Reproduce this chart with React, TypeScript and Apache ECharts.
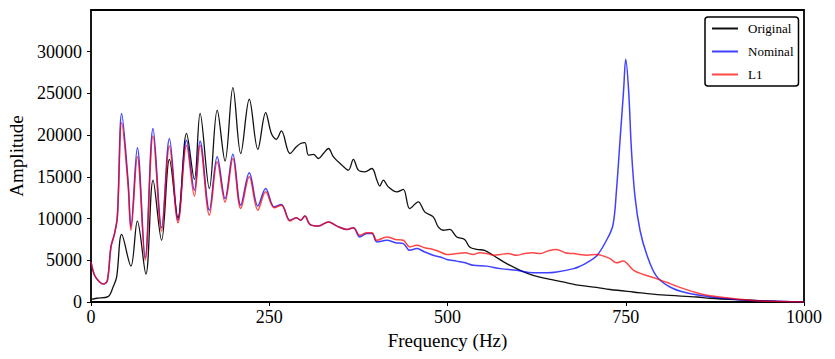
import React, { useEffect, useRef } from "react";
import * as echarts from "echarts";

// [frequency (Hz), amplitude]
const original: [number, number][] = [
  [0, 320], [8, 450], [24, 650], [31, 1800], [36, 3000], [43, 8100], [56, 4300], [65, 9700],
  [77, 3350], [87, 14600], [99, 7400], [110, 17100], [122, 10100], [134, 20200], [145, 14700],
  [153, 22600], [166, 13600], [177, 23000], [188, 16900], [199, 25700], [210, 17800], [222, 24300],
  [234, 18300], [245, 22700], [253, 20200], [260, 19500], [267, 20500], [279, 17800], [288, 18600],
  [294, 19000], [300, 19100], [305, 17600], [312, 17700], [319, 17200], [326, 17800], [333, 18400],
  [340, 17400], [352, 16400], [361, 15800], [368, 17100], [375, 15800], [384, 15600], [394, 16000],
  [401, 14600], [405, 13900], [410, 14600], [417, 13800], [429, 13200], [438, 13500], [447, 11200],
  [459, 12000], [468, 10800], [480, 10200], [487, 9000], [494, 8600], [503, 8700], [513, 7800],
  [524, 7500], [531, 6600], [541, 6300], [552, 6200], [564, 5600], [583, 4600], [602, 3800],
  [620, 3200], [639, 2800], [662, 2400], [686, 2000], [709, 1750], [728, 1500], [760, 1200],
  [800, 850], [850, 600], [868, 450], [915, 250], [962, 80], [1000, 0],
];

const nominal: [number, number][] = [
  [0, 4800], [5, 3200], [12, 2400], [18, 2150], [23, 2600], [28, 6600], [33, 8200], [37, 10300],
  [43, 22600], [52, 14500], [56, 9000], [65, 18500], [76, 5300], [87, 20800], [99, 8900],
  [110, 19600], [122, 9800], [134, 19400], [145, 13400], [153, 19300], [166, 11000], [177, 17400],
  [188, 12400], [199, 17700], [210, 11600], [222, 15500], [234, 11500], [245, 13600], [257, 11400],
  [267, 11700], [279, 9800], [288, 10100], [294, 9800], [300, 10300], [307, 9300], [319, 9100],
  [333, 9600], [345, 9100], [359, 8700], [368, 8900], [377, 7800], [387, 8200], [394, 8200],
  [401, 7200], [415, 7400], [427, 7100], [438, 7000], [447, 6200], [457, 6400], [468, 6000],
  [480, 5600], [490, 5400], [499, 5100], [513, 4900], [525, 4700], [536, 4400], [555, 4300],
  [574, 4000], [597, 3800], [620, 3500], [640, 3500], [653, 3600], [677, 4000], [686, 4300],
  [695, 4700], [709, 5500], [723, 7400], [732, 9200], [737, 13400], [742, 19400], [747, 25400],
  [750, 29100], [754, 25400], [758, 18200], [763, 12600], [770, 8600], [779, 5800], [793, 3100],
  [812, 1800], [835, 1100], [868, 630], [915, 240], [1000, 0],
];

const l1: [number, number][] = [
  [0, 4800], [5, 3200], [12, 2400], [18, 2150], [23, 2600], [28, 6600], [33, 8200], [37, 10200],
  [43, 21500], [52, 14000], [56, 8600], [65, 17400], [76, 5000], [87, 19900], [99, 8500],
  [110, 18700], [122, 9500], [134, 18800], [145, 12700], [153, 18800], [166, 10400], [177, 16800],
  [188, 12000], [199, 17200], [210, 11200], [222, 15000], [234, 11000], [245, 13200], [257, 11300],
  [267, 11600], [279, 9700], [288, 10100], [294, 9800], [300, 10300], [307, 9300], [319, 9100],
  [333, 9600], [345, 9100], [359, 8700], [368, 8900], [377, 8000], [387, 8300], [394, 8300],
  [401, 7400], [415, 7800], [427, 7500], [438, 7400], [447, 6600], [457, 6800], [468, 6500],
  [480, 6300], [490, 6000], [499, 5700], [513, 5800], [525, 5900], [536, 5700], [545, 5900],
  [555, 5800], [565, 5600], [574, 5700], [585, 5800], [597, 5600], [608, 5800], [620, 5900],
  [630, 5800], [640, 6100], [653, 6300], [665, 5900], [677, 5800], [686, 5700], [695, 5600],
  [709, 5700], [719, 5500], [728, 5200], [737, 4700], [746, 4900], [761, 3800], [775, 3300],
  [793, 2800], [812, 2200], [821, 1900], [854, 1000], [892, 500], [938, 120], [1000, 0],
];

const xTicks = [0, 250, 500, 750, 1000];
const yTicks = [0, 5000, 10000, 15000, 20000, 25000, 30000];

const FONT = "'Liberation Serif', 'DejaVu Serif', serif";

export default function App() {
  const ref = useRef<HTMLDivElement>(null);
  useEffect(() => {
    if (!ref.current) return;
    const chart = echarts.init(ref.current, undefined, { renderer: "svg" });
    chart.setOption({
      animation: false,
      backgroundColor: "#fff",
      grid: {
        left: 91,
        top: 10,
        width: 713,
        height: 292,
        containLabel: false,
        outerBoundsMode: "none",
        show: true,
        borderColor: "#000",
        borderWidth: 1.8,
        backgroundColor: "transparent",
      },
      legend: {
        orient: "vertical",
        left: 705,
        top: 17,
        padding: [5, 5, 5, 7],
        itemGap: 10,
        itemWidth: 26,
        itemHeight: 2,
        icon: "rect",
        borderColor: "#000",
        borderWidth: 1.5,
        borderRadius: 3,
        backgroundColor: "#fff",
        textStyle: { fontFamily: FONT, fontSize: 13, color: "#000", lineHeight: 12, padding: [0, 0, 0, 5] },
        itemStyle: { borderWidth: 0 },
        data: ["Original", "Nominal", "L1"],
      },
      xAxis: {
        type: "value",
        min: 0,
        max: 1000,
        interval: 250,
        name: "Frequency (Hz)",
        nameLocation: "middle",
        nameGap: 24,
        nameTextStyle: { fontFamily: FONT, fontSize: 19, color: "#000" },
        axisLine: { show: false },
        axisTick: { show: true, length: 4, lineStyle: { color: "#000", width: 1 }, customValues: xTicks },
        axisLabel: {
          fontFamily: FONT, fontSize: 18, color: "#000", margin: 6, customValues: xTicks,
          formatter: (v: number) => String(v),
        },
        splitLine: { show: false },
      },
      yAxis: {
        type: "value",
        min: 0,
        max: 35000,
        interval: 5000,
        name: "Amplitude",
        nameLocation: "middle",
        nameGap: 63,
        nameTextStyle: { fontFamily: FONT, fontSize: 19, color: "#000" },
        axisLine: { show: false },
        axisTick: { show: true, length: 4, lineStyle: { color: "#000", width: 1 }, customValues: yTicks },
        axisLabel: {
          fontFamily: FONT, fontSize: 18, color: "#000", margin: 9, customValues: yTicks,
          formatter: (v: number) => String(v),
        },
        splitLine: { show: false },
      },
      series: [
        {
          name: "Original",
          type: "line",
          data: original,
          showSymbol: false,
          smooth: 0.35,
          itemStyle: { color: "#111" },
          lineStyle: { color: "#111", width: 1.3 },
          z: 2,
        },
        {
          name: "Nominal",
          type: "line",
          data: nominal,
          showSymbol: false,
          smooth: 0.35,
          itemStyle: { color: "rgba(0,0,255,0.75)" },
          lineStyle: { color: "rgba(0,0,255,0.75)", width: 1.5 },
          z: 3,
        },
        {
          name: "L1",
          type: "line",
          data: l1,
          showSymbol: false,
          smooth: 0.35,
          itemStyle: { color: "rgba(255,0,0,0.72)" },
          lineStyle: { color: "rgba(255,0,0,0.72)", width: 1.5 },
          z: 4,
        },
      ],
    });
    return () => chart.dispose();
  }, []);
  return (
    <div
      ref={ref}
      style={{ position: "fixed", left: 0, top: 0, width: 835, height: 359 }}
    />
  );
}
